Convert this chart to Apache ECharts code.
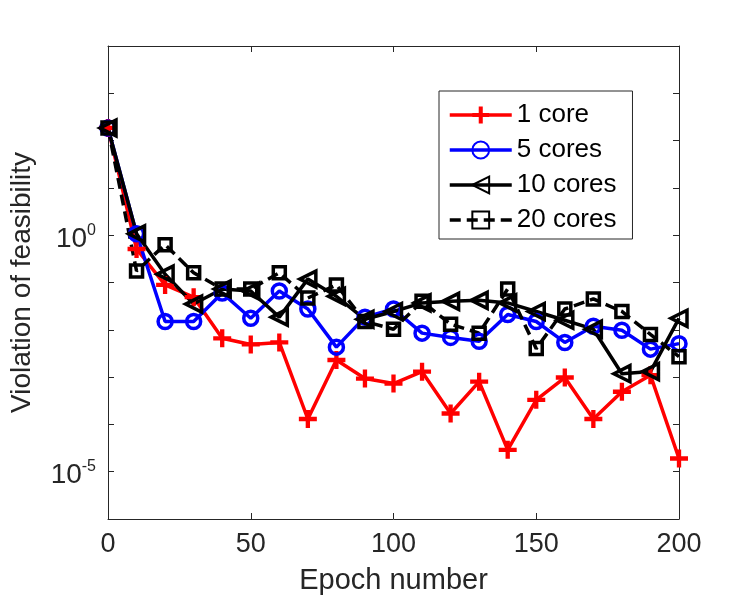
<!DOCTYPE html>
<html>
<head>
<meta charset="utf-8">
<script src="https://cdn.jsdelivr.net/npm/echarts@6/dist/echarts.min.js"></script>
<style>
  html, body { margin: 0; padding: 0; background: #fff; }
  #ch1 { width: 750px; height: 600px; }
</style>
</head>
<body>
<div id="ch1"></div>
<script>
var epochs = [0, 10, 20, 30, 40, 50, 60, 70, 80, 90, 100, 110, 120, 130, 140, 150, 160, 170, 180, 190, 200];
var core1 = [185, 0.51, 0.089, 0.049, 0.0066, 0.0049, 0.0054, 1.3e-4, 2.3e-3, 9.3e-4, 7.3e-4, 1.3e-3, 1.7e-4, 8.0e-4, 2.9e-5, 3.3e-4, 9.8e-4, 1.3e-4, 4.9e-4, 1.1e-3, 1.9e-5];
var cores5 = [185, 1.07, 0.015, 0.015, 0.060, 0.0175, 0.066, 0.0275, 0.0043, 0.0185, 0.0275, 0.0085, 0.0069, 0.0057, 0.021, 0.015, 0.0054, 0.0119, 0.0098, 0.0039, 0.0051];
var cores10 = [185, 1.07, 0.15, 0.035, 0.073, 0.066, 0.0185, 0.118, 0.051, 0.0167, 0.0244, 0.037, 0.040, 0.042, 0.037, 0.0244, 0.0159, 0.0103, 0.00118, 0.00131, 0.0175];
var cores20 = [185, 0.175, 0.63, 0.16, 0.073, 0.073, 0.16, 0.047, 0.089, 0.015, 0.0103, 0.040, 0.0131, 0.0085, 0.073, 0.0040, 0.0275, 0.045, 0.0244, 0.0080, 0.0027];
var xTicks = [0, 50, 100, 150, 200];
var yLabelled = [0, -5]; // exponents that get a label

var ch1 = echarts.init(document.getElementById('ch1'));
var font = 'Liberation Sans, Arial, sans-serif';
var axisColor = '#262626';
var lw = 3.5;

function pairs(ys) {
  return epochs.map(function (e, i) { return [e, ys[i]]; });
}

// thick "+" marker
var plusPath = 'path://M3.8,0L6.2,0L6.2,3.8L10,3.8L10,6.2L6.2,6.2L6.2,10L3.8,10L3.8,6.2L0,6.2L0,3.8L3.8,3.8Z';

function xAxisCfg(pos, labels) {
  return {
    type: 'value',
    position: pos,
    min: 0,
    max: 200,
    interval: 50,
    axisLine: { show: true, onZero: false, lineStyle: { color: axisColor, width: 1 } },
    axisTick: { show: true, inside: true, length: 6, lineStyle: { color: axisColor } },
    splitLine: { show: false },
    axisLabel: {
      show: labels,
      margin: 12,
      color: axisColor,
      fontFamily: font,
      fontSize: 27,
      formatter: function (v) { return xTicks.indexOf(v) >= 0 ? String(v) : ''; }
    }
  };
}

function yAxisCfg(pos, labels) {
  return {
    type: 'log',
    logBase: 10,
    position: pos,
    min: 1e-6,
    max: 1e4,
    interval: 1,
    axisLine: { show: true, onZero: false, lineStyle: { color: axisColor, width: 1 } },
    axisTick: { show: true, inside: true, length: 6, lineStyle: { color: axisColor } },
    splitLine: { show: false },
    minorTick: { show: false },
    axisLabel: {
      show: labels,
      margin: 12,
      color: axisColor,
      fontFamily: font,
      formatter: function (v) {
        var p = Math.round(Math.log10(v));
        if (yLabelled.indexOf(p) < 0) return '';
        return '{b|10}{s|' + p + '}';
      },
      rich: {
        b: { fontSize: 28, fontFamily: font, color: axisColor, padding: [8, 0, 0, 0] },
        s: { fontSize: 16, fontFamily: font, color: axisColor, padding: [0, 0, 10, 0] }
      }
    }
  };
}

var op1 = {
  animation: false,
  backgroundColor: '#fff',
  grid: { left: 108, right: 71, top: 46, bottom: 81, containLabel: false },
  legend: {
    orient: 'vertical',
    left: 439,
    top: 91,
    padding: [11, 16, 6, 9],
    itemWidth: 62,
    itemHeight: 21,
    itemGap: 9,
    borderColor: axisColor,
    borderWidth: 1,
    backgroundColor: '#fff',
    lineStyle: { width: lw },
    textStyle: { fontFamily: font, fontSize: 26, color: '#000', lineHeight: 25 },
    data: ['1 core', '5 cores', '10 cores', '20 cores']
  },
  xAxis: [
    Object.assign(xAxisCfg('bottom', true), {
      name: 'Epoch number',
      nameLocation: 'middle',
      nameGap: 47,
      nameTextStyle: { fontFamily: font, fontSize: 29, color: axisColor }
    }),
    xAxisCfg('top', false)
  ],
  yAxis: [
    Object.assign(yAxisCfg('left', true), {
      name: 'Violation of feasibility',
      nameLocation: 'middle',
      nameGap: 72,
      nameTextStyle: { fontFamily: font, fontSize: 28, color: axisColor }
    }),
    yAxisCfg('right', false)
  ],
  series: [{
    name: '1 core',
    type: 'line',
    data: pairs(core1),
    symbol: plusPath,
    symbolSize: 18,
    lineStyle: { color: '#ff0000', width: lw },
    itemStyle: { color: '#ff0000' }
  }, {
    name: '5 cores',
    type: 'line',
    data: pairs(cores5),
    symbol: 'circle',
    symbolSize: 14,
    lineStyle: { color: '#0000ff', width: lw },
    itemStyle: { color: 'rgba(255,255,255,0)', borderColor: '#0000ff', borderWidth: lw }
  }, {
    name: '10 cores',
    type: 'line',
    data: pairs(cores10),
    symbol: 'triangle',
    symbolRotate: 90,
    symbolSize: 16,
    lineStyle: { color: '#000', width: lw },
    itemStyle: { color: 'rgba(255,255,255,0)', borderColor: '#000', borderWidth: lw }
  }, {
    name: '20 cores',
    type: 'line',
    data: pairs(cores20),
    symbol: 'rect',
    symbolSize: 12,
    lineStyle: { color: '#000', width: lw, type: [11, 6] },
    itemStyle: { color: 'rgba(255,255,255,0)', borderColor: '#000', borderWidth: lw }
  }]
};

ch1.setOption(op1);
</script>
</body>
</html>
